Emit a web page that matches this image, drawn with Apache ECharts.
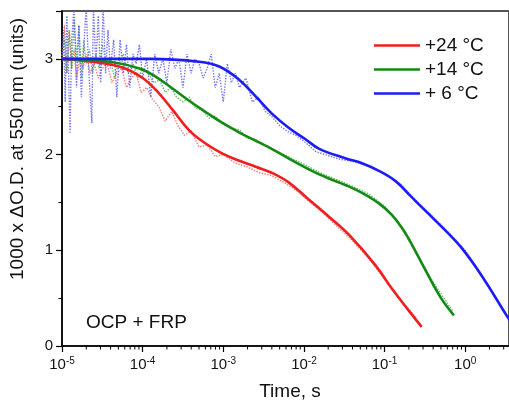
<!DOCTYPE html>
<html>
<head>
<meta charset="utf-8">
<script src="https://cdn.jsdelivr.net/npm/echarts@6/dist/echarts.min.js"></script>
<style>
html,body{margin:0;padding:0;background:#fff;}
#chart{width:509px;height:404px;}
</style>
</head>
<body>
<div id="chart"></div>
<script>
// ---- Data (time as log10 exponent, value in 1000 x dOD units) ----
const seriesNames = ['+24 °C', '+14 °C', '+ 6 °C'];
const colors = ['#f01e1e', '#138a13', '#1c1cf5'];
const rawColors = ['#f06060', '#4aa84a', '#5a5af0'];

// fitted (solid) curves
const fit24Exp = [-5, -4.53, -4.22, -4.0, -3.83, -3.63, -3.42, -3.21, -3.01, -2.80, -2.59, -2.40, -2.19, -1.94, -1.69, -1.44, -1.11, -0.91, -0.70, -0.54];
const fit24Val = [3.0, 2.96, 2.90, 2.80, 2.67, 2.47, 2.25, 2.11, 2.01, 1.935, 1.87, 1.81, 1.71, 1.53, 1.35, 1.16, 0.84, 0.60, 0.37, 0.2];

const fit14Exp = [-5, -4.41, -4.04, -3.83, -3.63, -3.42, -3.21, -3.01, -2.80, -2.59, -2.40, -2.19, -1.90, -1.69, -1.48, -1.28, -1.07, -0.91, -0.79, -0.70, -0.46, -0.30, -0.14];
const fit14Val = [3.0, 2.97, 2.90, 2.81, 2.69, 2.56, 2.44, 2.33, 2.23, 2.14, 2.06, 1.96, 1.83, 1.75, 1.68, 1.60, 1.49, 1.37, 1.24, 1.12, 0.74, 0.50, 0.32];

const fit6Exp = [-5, -3.91, -3.30, -3.05, -2.80, -2.59, -2.40, -2.19, -1.98, -1.81, -1.48, -1.28, -1.07, -0.86, -0.67, -0.46, -0.25, -0.05, 0.20, 0.52, 0.56];
const fit6Val = [3.0, 3.0, 2.97, 2.92, 2.78, 2.60, 2.43, 2.28, 2.16, 2.06, 1.96, 1.91, 1.83, 1.72, 1.56, 1.385, 1.21, 1.03, 0.74, 0.31, 0.26];

// raw (dotted) measurements
const raw24Exp = [-5.00,-4.97,-4.94,-4.91,-4.88,-4.85,-4.82,-4.78,-4.74,-4.70,-4.65,-4.60,-4.55,-4.50,-4.44,-4.38,-4.32,-4.26,-4.20,-4.14,-4.08,-4.02,-3.95,-3.88,-3.80,-3.72,-3.64,-3.56,-3.48,-3.40,-3.30,-3.20,-3.10,-3.00,-2.85,-2.70,-2.55,-2.40,-2.25,-2.10,-1.95,-1.80,-1.60,-1.40,-1.20,-1.00,-0.80,-0.60];
const raw24Val = [3.0,3.35,2.85,3.3,2.9,3.1,2.8,3.0,2.9,3.05,2.85,2.95,2.8,2.9,2.95,2.75,2.85,2.9,2.7,2.8,2.85,2.65,2.7,2.58,2.5,2.35,2.45,2.3,2.2,2.25,2.08,2.1,1.98,2.0,1.91,1.87,1.81,1.78,1.71,1.63,1.52,1.42,1.26,1.10,0.92,0.70,0.48,0.29];

const raw14Exp = [-5.00,-4.97,-4.94,-4.91,-4.88,-4.85,-4.82,-4.79,-4.76,-4.73,-4.70,-4.66,-4.62,-4.58,-4.54,-4.50,-4.45,-4.40,-4.35,-4.30,-4.24,-4.18,-4.12,-4.06,-4.00,-3.93,-3.86,-3.79,-3.72,-3.65,-3.58,-3.50,-3.42,-3.34,-3.26,-3.18,-3.10,-3.00,-2.90,-2.80,-2.70,-2.60,-2.45,-2.30,-2.15,-2.00,-1.80,-1.60,-1.40,-1.20,-1.00,-0.80,-0.60,-0.40,-0.15];
const raw14Val = [3.0,3.2,2.85,3.3,2.9,3.4,3.0,3.35,2.8,3.2,2.95,3.1,2.85,3.05,2.9,3.15,2.95,3.0,2.8,2.95,3.05,2.85,2.95,2.8,2.9,2.85,2.75,2.78,2.65,2.7,2.6,2.55,2.6,2.48,2.47,2.38,2.4,2.32,2.27,2.26,2.17,2.16,2.08,2.02,1.96,1.9,1.81,1.74,1.67,1.59,1.46,1.25,0.96,0.67,0.36];

const raw6Exp = [-5.00,-4.98,-4.96,-4.94,-4.92,-4.90,-4.88,-4.85,-4.82,-4.79,-4.76,-4.73,-4.70,-4.67,-4.63,-4.61,-4.58,-4.55,-4.52,-4.49,-4.46,-4.43,-4.40,-4.36,-4.32,-4.28,-4.24,-4.20,-4.16,-4.12,-4.08,-4.04,-4.00,-3.95,-3.90,-3.85,-3.80,-3.75,-3.70,-3.65,-3.60,-3.55,-3.50,-3.45,-3.40,-3.35,-3.30,-3.25,-3.20,-3.15,-3.10,-3.05,-3.00,-2.95,-2.90,-2.85,-2.80,-2.72,-2.64,-2.56,-2.48,-2.40,-2.30,-2.20,-2.10,-2.00,-1.85,-1.70,-1.55,-1.40,-1.20,-1.00,-0.80,-0.60,-0.40,-0.20,0.00,0.20,0.40];
const raw6Val = [3.0,3.3,2.55,3.45,2.9,2.22,3.2,3.55,2.7,3.35,2.6,3.1,3.55,2.9,2.33,3.55,2.95,3.45,2.75,3.55,2.85,3.3,2.9,3.2,2.6,3.2,2.85,3.15,2.7,3.05,2.95,3.15,2.8,3.0,2.6,3.05,2.85,3.0,2.75,3.1,2.9,3.0,2.7,3.05,2.85,3.0,2.95,2.8,2.9,3.05,2.7,2.85,2.55,2.95,2.75,2.85,2.7,2.8,2.55,2.6,2.45,2.4,2.3,2.24,2.2,2.14,2.03,1.99,1.95,1.93,1.88,1.80,1.69,1.51,1.35,1.18,1.0,0.75,0.47];

// tick label exponents of x axis
const xMinExp = -5;
const xMaxExp = 0.543;

// ---- Build ----
function pairs(exps, vals) {
  return exps.map((e, i) => [Math.pow(10, e), vals[i]]);
}
const fits = [pairs(fit24Exp, fit24Val), pairs(fit14Exp, fit14Val), pairs(fit6Exp, fit6Val)];
const raws = [pairs(raw24Exp, raw24Val), pairs(raw14Exp, raw14Val), pairs(raw6Exp, raw6Val)];

// minor tick positions on log axis (2..9 in every decade)
const minorTicks = [];
for (let d = xMinExp; d <= 0; d++) {
  for (let m = 2; m <= 9; m++) {
    const v = m * Math.pow(10, d);
    if (Math.log10(v) <= xMaxExp) minorTicks.push([v, 0]);
  }
}

const FONT = 'Liberation Sans, Arial, sans-serif';
const series = [];
raws.forEach((d, i) => {
  series.push({
    name: 'raw' + i, type: 'line', data: d, symbol: 'none', silent: true,
    lineStyle: { color: rawColors[i], width: 1.4, type: 'dotted', opacity: 0.85 },
    z: 2
  });
});
fits.forEach((d, i) => {
  series.push({
    name: seriesNames[i], type: 'line', data: d, symbol: 'none', smooth: 0.4,
    lineStyle: { color: colors[i], width: 2.6 }, itemStyle: { color: colors[i] },
    z: 3
  });
});
series.push({
  type: 'custom', data: minorTicks, silent: true, clip: false, z: 5,
  renderItem: function (params, api) {
    const p = api.coord([api.value(0), 0]);
    return { type: 'line', shape: { x1: p[0], y1: p[1], x2: p[0], y2: p[1] + 3.5 },
             style: { stroke: '#000', lineWidth: 1 } };
  }
});

const chart = echarts.init(document.getElementById('chart'), null, { renderer: 'canvas' });
chart.setOption({
  animation: false,
  backgroundColor: '#fff',
  textStyle: { fontFamily: FONT },
  grid: { left: 62, top: 11, right: -2, bottom: 58, show: true, borderColor: '#555', borderWidth: 2, backgroundColor: 'transparent' },
  legend: {
    data: seriesNames.map((n, i) => ({ name: n, icon: 'rect', itemStyle: { color: colors[i] } })),
    orient: 'vertical', left: 369, top: 31,
    itemWidth: 46, itemHeight: 2.5, itemGap: 5,
    textStyle: { fontSize: 19, fontFamily: FONT, color: '#111' }
  },
  xAxis: {
    type: 'log', logBase: 10, min: Math.pow(10, xMinExp), max: Math.pow(10, xMaxExp),
    axisLine: { lineStyle: { color: '#000', width: 1.5 } },
    axisTick: { show: true, inside: false, length: 6, lineStyle: { color: '#000', width: 1.2 } },
    splitLine: { show: false },
    minorTick: { show: false },
    axisLabel: {
      margin: 10, color: '#111', fontSize: 15, fontFamily: FONT,
      showMaxLabel: false,
      formatter: function (v) {
        const e = Math.log10(v);
        if (Math.abs(e - Math.round(e)) > 1e-6) return '';
        return '10{e|' + Math.round(e) + '}';
      },
      rich: { e: { fontSize: 10, padding: [0, 0, 8, 0], fontFamily: FONT, color: '#111' } }
    }
  },
  yAxis: {
    type: 'value', min: 0, max: 3.5, interval: 1,
    axisLine: { show: true, lineStyle: { color: '#000', width: 1.5 } },
    axisTick: { show: true, inside: false, length: 6, lineStyle: { color: '#000', width: 1.2 } },
    minorTick: { show: true, splitNumber: 2, length: 3.5, lineStyle: { color: '#000', width: 1 } },
    splitLine: { show: false },
    axisLabel: {
      margin: 9, color: '#111', fontSize: 15, fontFamily: FONT,
      formatter: function (v) { return Number.isInteger(v) ? String(v) : ''; }
    }
  },
  graphic: [
    { type: 'text', left: 86, top: 313, style: { text: 'OCP + FRP', fontSize: 19, fontFamily: FONT, fill: '#111' } },
    { type: 'text', x: 290, y: 392, style: { text: 'Time, s', fontSize: 19, fontFamily: FONT, fill: '#111', textAlign: 'center', textVerticalAlign: 'middle' } },
    { type: 'text', x: 18, y: 149, rotation: Math.PI / 2, style: { text: '1000 x \u0394O.D. at 550 nm (units)', fontSize: 19, fontFamily: FONT, fill: '#111', textAlign: 'center', textVerticalAlign: 'middle' } }
  ],
  series: series
});
</script>
</body>
</html>
